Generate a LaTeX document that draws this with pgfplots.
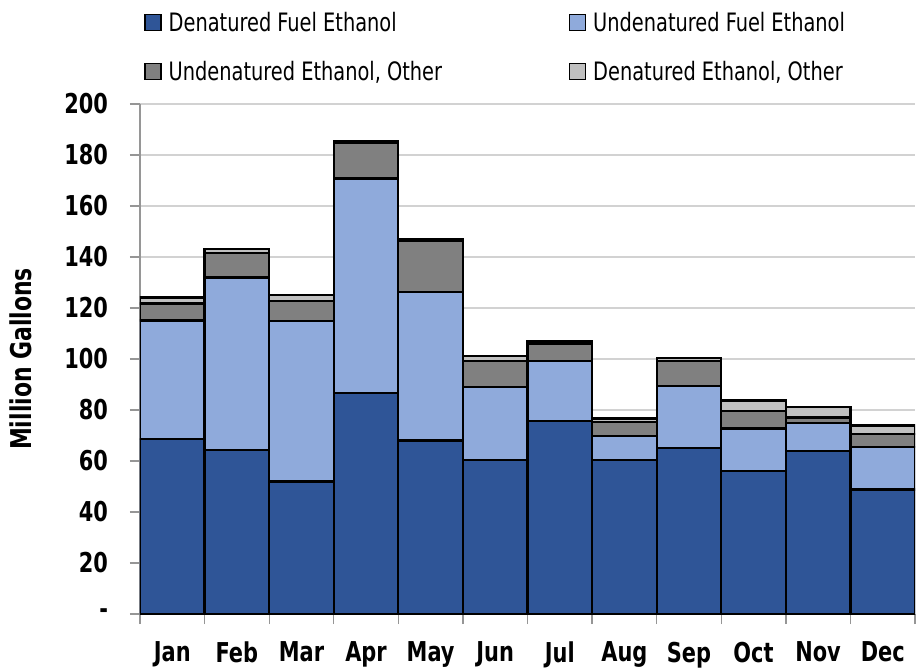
\documentclass[border=0pt]{standalone}
\usepackage{fontspec}
\setmainfont{DejaVu Sans Condensed}[FakeStretch=0.85]
\usepackage{pgfplots}
\pgfplotsset{compat=1.18}
\definecolor{cDF}{RGB}{47,85,151}
\definecolor{cUF}{RGB}{143,170,219}
\definecolor{cUO}{RGB}{128,128,128}
\definecolor{cDO}{RGB}{192,192,192}
\definecolor{gridc}{RGB}{210,210,210}
\definecolor{axc}{RGB}{150,150,150}
\begin{document}
\begin{tikzpicture}
\begin{axis}[
  at={(0pt,0pt)}, anchor=south west,
  scale only axis, width=581.25pt, height=382.5pt,
  ybar stacked, bar width=1,
  xmin=-0.5, xmax=11.5, ymin=0, ymax=200,
  axis x line*=bottom, axis y line*=left,
  axis line style={draw=axc, line width=1.2pt},
  xtick={0,...,11},
  xticklabels={Jan,Feb,Mar,Apr,May,Jun,Jul,Aug,Sep,Oct,Nov,Dec},
  major x tick style={draw=none},
  minor xtick={-0.5,0.5,...,11.5},
  minor x tick style={draw=axc, line width=1pt},
  minor tick length=7.5pt,
  ytick={0,20,...,200},
  yticklabels={-,20,40,60,80,100,120,140,160,180,200},
  major y tick style={draw=axc, line width=1pt},
  major tick length=7.5pt,
  tick align=outside,
  ymajorgrids, grid style={draw=gridc, line width=1pt},
  /pgf/number format/assume math mode=true,
  ticklabel style={font=\bfseries\fontsize{20.5}{20.5}\selectfont},
  xticklabel style={yshift=-10pt},
  yticklabel style={xshift=-13pt},
  ylabel={\bfseries Million Gallons},
  ylabel style={font=\fontsize{21.5}{21.5}\selectfont, at={(axis description cs:-0.134,0.5)}, anchor=south},
  every axis plot/.append style={draw=black, line width=1.7pt},
  legend columns=2,
  legend style={at={(axis description cs:0,1)}, anchor=south west, yshift=12pt, draw=none, fill=none,
    font=\fontsize{19}{19}\selectfont, row sep=17pt,
    /tikz/every even column/.append style={column sep=8pt}},
  legend cell align=left,
  legend image code/.code={\draw[#1, draw=black, line width=1pt] (0pt,-6pt) rectangle (12pt,6pt); \path (15pt,0pt);},
]
\addplot[fill=cDF] coordinates {(0,68.6) (1,64.2) (2,52.0) (3,86.6) (4,68.0) (5,60.4) (6,75.7) (7,60.4) (8,65.2) (9,56.2) (10,63.9) (11,48.8)};
\addplot[fill=cUF] coordinates {(0,46.5) (1,67.8) (2,63.0) (3,84.2) (4,58.4) (5,28.6) (6,23.6) (7,9.4) (8,24.2) (9,16.5) (10,11.1) (11,16.8)};
\addplot[fill=cUO] coordinates {(0,6.7) (1,9.5) (2,7.8) (3,13.9) (4,19.8) (5,10.1) (6,6.8) (7,5.6) (8,9.9) (9,6.9) (10,2.1) (11,5.0)};
\addplot[fill=cDO] coordinates {(0,2.3) (1,1.7) (2,2.3) (3,0.6) (4,0.8) (5,2.2) (6,1.0) (7,1.3) (8,1.0) (9,4.1) (10,4.1) (11,3.3)};
\legend{\makebox[290pt][l]{Denatured Fuel Ethanol}, Undenatured Fuel Ethanol, \makebox[290pt][l]{Undenatured Ethanol, Other}, {Denatured Ethanol, Other}}
\end{axis}
\pgfresetboundingbox
\path[use as bounding box] (-105pt,-41.25pt) rectangle (585pt,460.5pt);
\end{tikzpicture}
\end{document}
